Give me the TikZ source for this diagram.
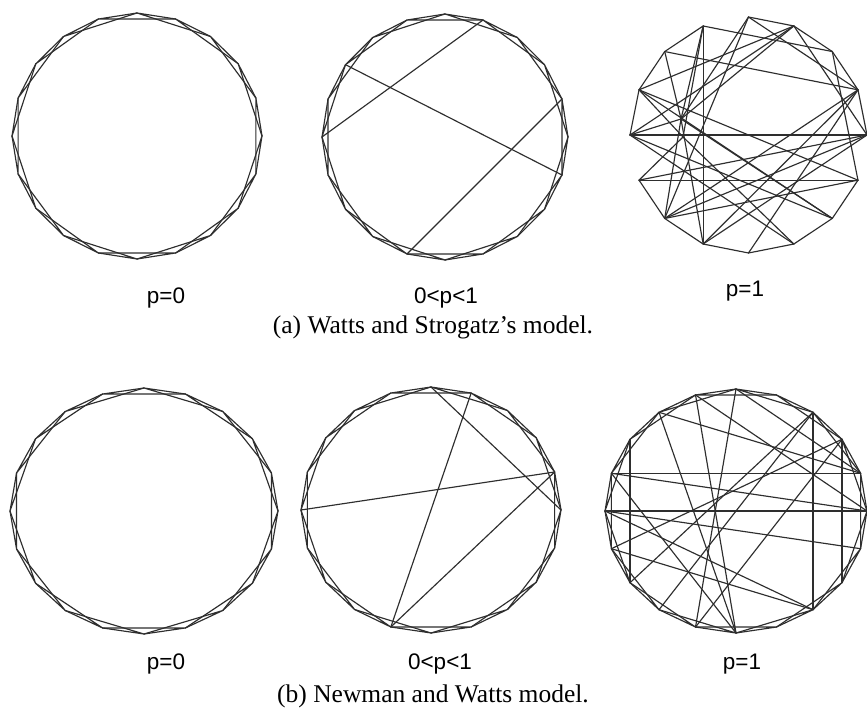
\documentclass[tikz,border=0pt]{standalone}
\usepackage{fontspec}
\newfontfamily\labfont{Liberation Sans}
\newfontfamily\captfont{Liberation Serif}

\tikzset{
  link/.style={draw=black!82, line width=1.15pt, line join=round, line cap=round},
  plabel/.style={font=\labfont\fontsize{22.5}{26}\selectfont, anchor=base, inner sep=0pt},
  caption/.style={font=\captfont\fontsize{25.5}{30}\selectfont, anchor=base, inner sep=0pt},
}

% ring lattice: 20 vertices, each joined to its two nearest neighbours on either side
% #1 name prefix, #2 cx, #3 cy, #4 rx, #5 ry
\newcommand\ringlattice[5]{%
  \foreach \i in {0,...,19}{
    \coordinate (#1\i) at ({#2+#4*cos(90-18*\i)},{#3-#5*sin(90-18*\i)});
  }
  \foreach \i in {0,...,19}{
    \pgfmathtruncatemacro\ja{mod(\i+1,20)}
    \pgfmathtruncatemacro\jb{mod(\i+2,20)}
    \draw[link] (#1\i) -- (#1\ja) (#1\i) -- (#1\jb);
  }
}

\begin{document}
\begin{tikzpicture}[x=1pt, y=-1pt]
\useasboundingbox (0,0) rectangle (867,719);
\fill[white] (0,0) rectangle (867,719);

% ---------- (a) Watts and Strogatz ----------
\ringlattice{wsa}{137}{136}{125}{123}

\ringlattice{wsb}{445}{137}{123}{123}
\foreach \a/\b in {17/6, 15/1, 11/4}
  \draw[link] (wsb\a) -- (wsb\b);

% fully rewired graph
\foreach \i in {0,...,15}{
  \coordinate (wsc\i) at ({748.5+118.5*cos(90-22.5*\i)},{135-118*sin(90-22.5*\i)});
}
\coordinate (wscha) at (681,119);
\coordinate (wschb) at (683,137);
\foreach \a/\b in {0/1, 1/2, 2/3, 3/4, 14/15, 13/14, 12/13, 10/11, 9/10, 8/9, 7/8, 6/7, 5/6,
                   12/4, 11/5,
                   ha/6, hb/7, 12/7, 13/6, 12/6, 13/5,
                   10/4, 9/4, 9/3, 8/3, 10/3, 11/4, 10/5,
                   14/3, 15/2, 0/3, 13/1, 12/1,
                   ha/15, ha/14, ha/0, ha/1, ha/12, hb/13, hb/15, ha/9, ha/10, hb/11,
                   15/9, 0/10, 2/5, 1/4}
  \draw[link] (wsc\a) -- (wsc\b);

\node[plabel] (la1) at (166,303) {p=0};
\node[plabel] (la2) at (446,303) {0<p<1};
\node[plabel] (la3) at (745,296) {p=1};
\node[caption] (capa) at (433,333) {(a) Watts and Strogatz’s model.};

% ---------- (b) Newman and Watts ----------
\ringlattice{nwa}{144}{511}{134}{123}

\ringlattice{nwb}{431}{510}{130}{123}
\foreach \a/\b in {15/4, 11/1, 11/4, 0/5}
  \draw[link] (nwb\a) -- (nwb\b);

\ringlattice{nwc}{736}{511}{131}{122}
\foreach \a/\b in {16/4, 17/13, 3/7, 15/5, 15/6, 18/10, 19/10, 0/11, 2/12, 3/11,
                   16/5, 18/4, 19/5, 13/2, 14/3, 14/8, 2/8, 0/4, 16/10, 15/8}
  \draw[link] (nwc\a) -- (nwc\b);

\node[plabel] (lb1) at (166,669) {p=0};
\node[plabel] (lb2) at (440,669) {0<p<1};
\node[plabel] (lb3) at (742,669) {p=1};
\node[caption] (capb) at (433,702) {(b) Newman and Watts model.};
\end{tikzpicture}
\end{document}
